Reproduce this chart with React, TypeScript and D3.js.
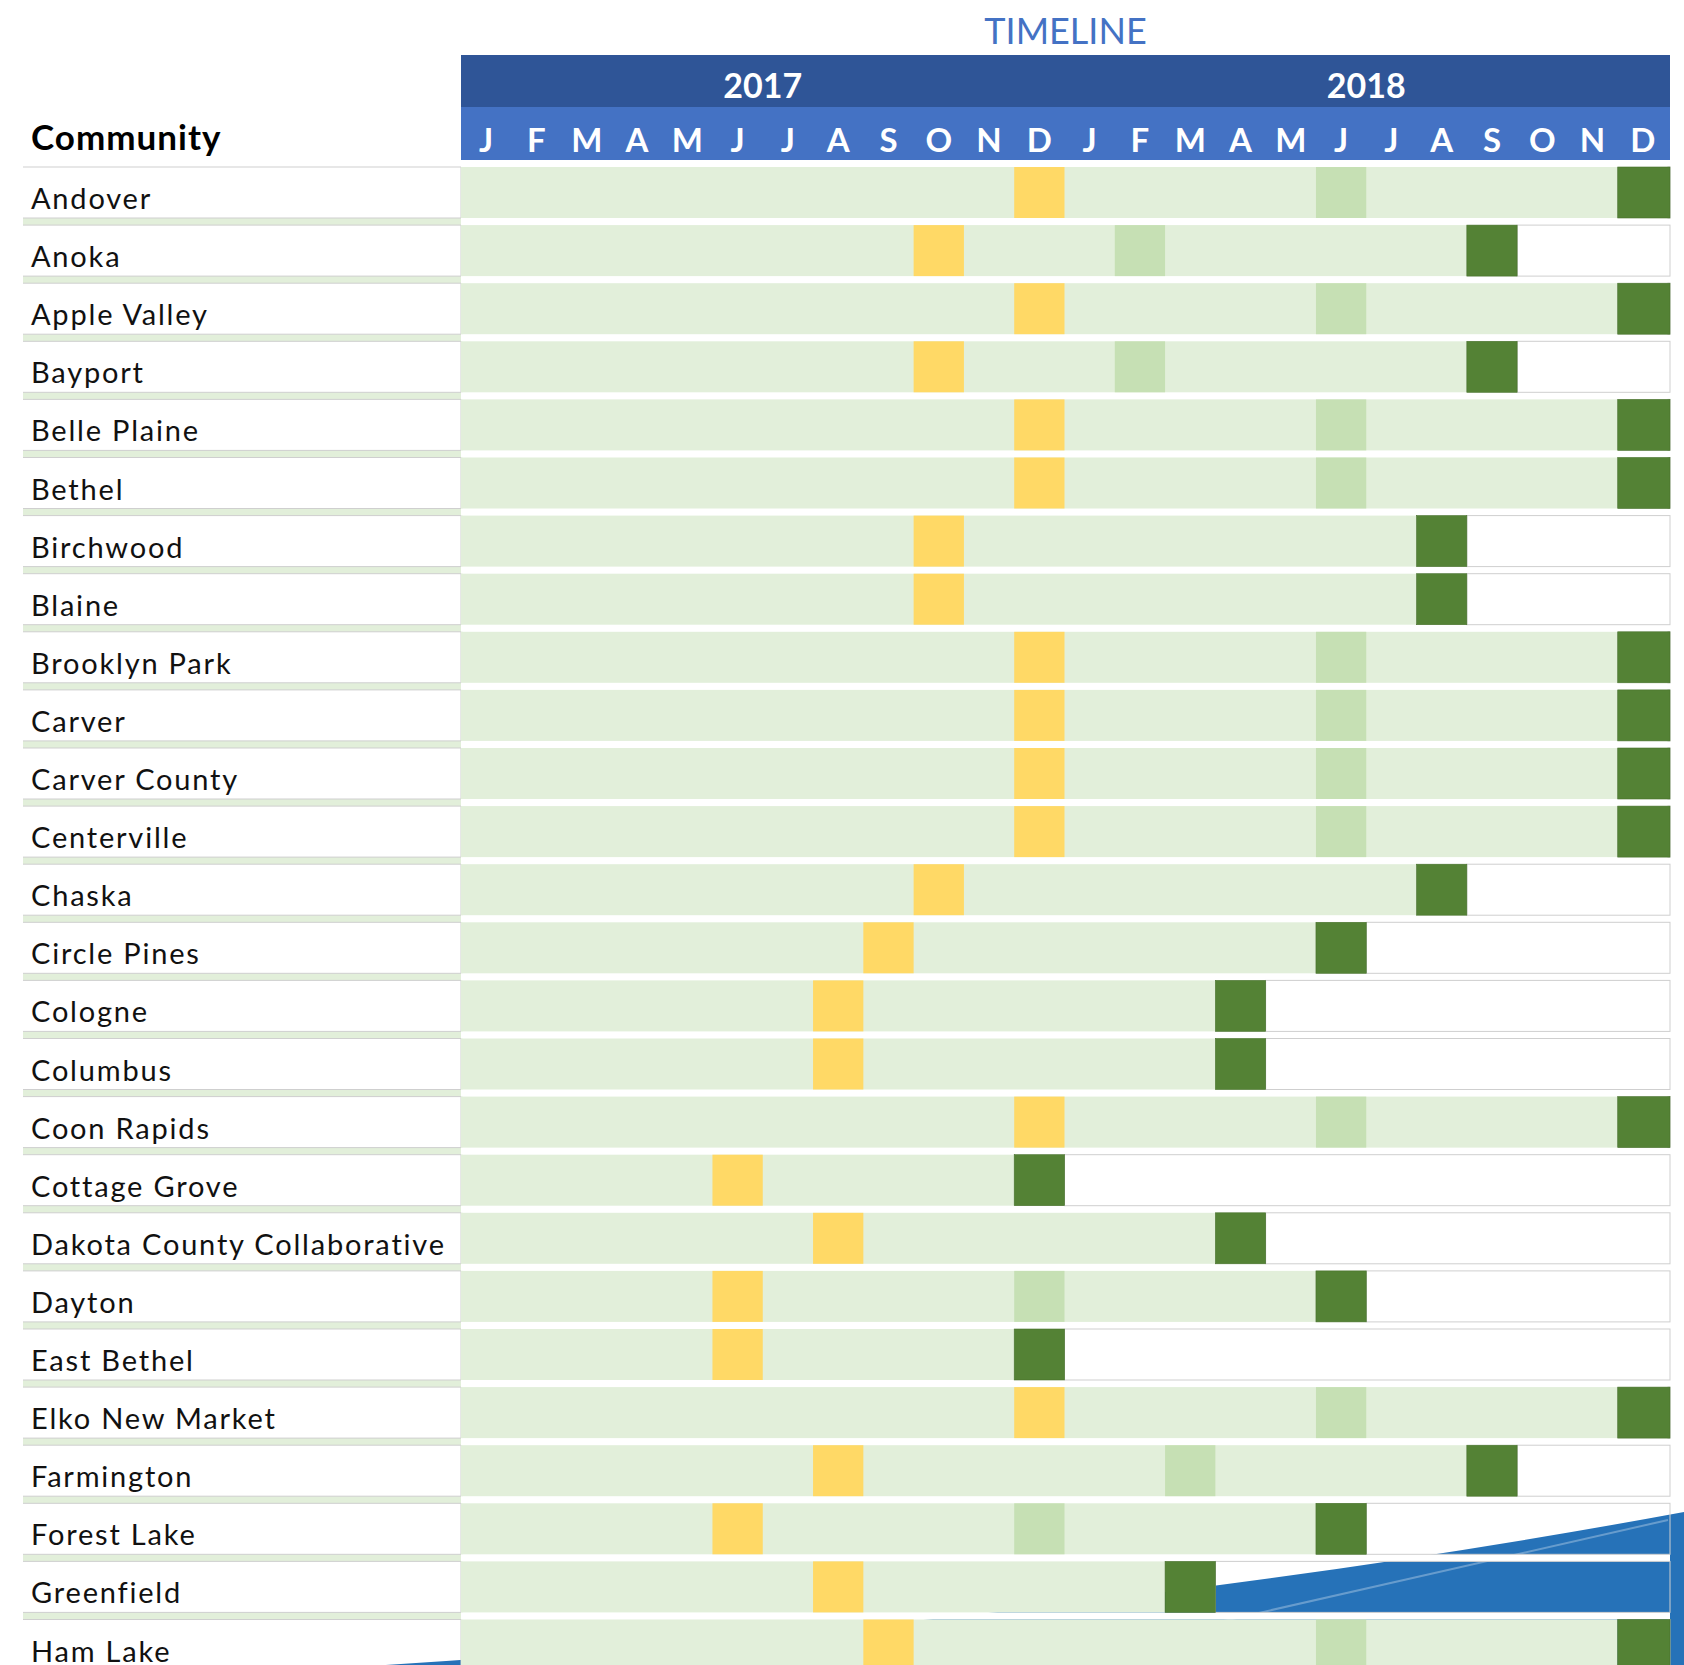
import React from "react";
import * as d3 from "d3";

const communities = [
  "Andover", "Anoka", "Apple Valley", "Bayport", "Belle Plaine", "Bethel", "Birchwood", "Blaine",
  "Brooklyn Park", "Carver", "Carver County", "Centerville", "Chaska", "Circle Pines", "Cologne",
  "Columbus", "Coon Rapids", "Cottage Grove", "Dakota County Collaborative", "Dayton", "East Bethel",
  "Elko New Market", "Farmington", "Forest Lake", "Greenfield", "Ham Lake",
];
// month index (0 = Jan 2017 ... 23 = Dec 2018)
const yellowMonth = [11, 9, 11, 9, 11, 11, 9, 9, 11, 11, 11, 11, 9, 8, 7, 7, 11, 5, 7, 5, 5, 11, 7, 5, 7, 8];
const midMonth: (number | null)[] = [17, 13, 17, 13, 17, 17, null, null, 17, 17, 17, 17, null, null, null, null, 17, null, null, 11, null, 17, 14, 11, null, 17];
const finalMonth = [23, 20, 23, 20, 23, 23, 19, 19, 23, 23, 23, 23, 19, 17, 15, 15, 23, 11, 15, 17, 11, 23, 20, 17, 14, 23];

const monthLetters = ["J", "F", "M", "A", "M", "J", "J", "A", "S", "O", "N", "D", "J", "F", "M", "A", "M", "J", "J", "A", "S", "O", "N", "D"];
const years = ["2017", "2018"];

const W = 1684;
const H = 1665;
const X0 = 461;
const X1 = 1668;
const TABLE_R = 1670;
const ROW_TOP = 167;
const PITCH = 58.1;
const BAR_H = 51;
const LABEL_X = 23;

const C = {
  dark: "#2f5597",
  light: "#4472c4",
  bg: "#e2efda",
  yellow: "#ffd966",
  mid: "#c6e0b4",
  final: "#548235",
  blue: "#2672b8",
  border: "#cfcfcf",
};

export default function App() {
  const x = d3.scaleBand<number>().domain(d3.range(24)).range([X0, X1]).paddingInner(0).paddingOuter(0);
  const xYear = d3.scaleBand<string>().domain(years).range([X0, X1]);
  const y = d3.scaleBand<string>().domain(communities).range([ROW_TOP, ROW_TOP + PITCH * communities.length]).paddingInner(0);
  const bw = x.bandwidth();
  const font = "Lato, 'Open Sans', sans-serif";

  return (
    <div style={{ position: "absolute", left: 0, top: 0 }}>
      <svg width={W} height={H} style={{ display: "block", background: "#fff" }}>
        {/* decorative background swoosh */}
        <path d={`M370,${H + 1} Q1100,1620 ${W},1512 L${W},${H} Z`} fill={C.blue} />
        <line x1={1100} y1={1649} x2={1668} y2={1520} stroke="#ffffff" strokeOpacity={0.3} strokeWidth={2} />

        {/* title */}
        <text x={(X0 + TABLE_R) / 2} y={44} textAnchor="middle" fill={C.light} fontFamily={font} fontSize={36}>TIMELINE</text>

        {/* header bands */}
        <rect x={X0} y={55} width={TABLE_R - X0} height={52} fill={C.dark} />
        <rect x={X0} y={107} width={TABLE_R - X0} height={53} fill={C.light} />
        {years.map((yr) => (
          <text key={yr} x={(xYear(yr) as number) + xYear.bandwidth() / 2} y={98} textAnchor="middle" fill="#fff" fontFamily={font} fontWeight={700} fontSize={34}>{yr}</text>
        ))}
        {monthLetters.map((m, i) => (
          <text key={i} x={(x(i) as number) + bw / 2} y={151.5} textAnchor="middle" fill="#fff" fontFamily={font} fontWeight={700} fontSize={33}>{m}</text>
        ))}
        <text x={31} y={150} fill="#000" fontFamily={font} fontWeight={700} fontSize={35} letterSpacing={1}>Community</text>

        {communities.map((name, i) => {
          const top = y(name) as number;
          const bottom = top + BAR_H;
          const nextTop = top + PITCH;
          const fEnd = (x(finalMonth[i]) as number) + bw;
          const mid = midMonth[i];
          return (
            <g key={name}>
              {/* label column */}
              {i < communities.length - 1 && (
                <rect x={LABEL_X} y={bottom} width={X0 + 2 - LABEL_X} height={nextTop - bottom} fill={C.bg} />
              )}
              <path d={`M${LABEL_X},${top}H${X0}V${bottom}H${LABEL_X}`} fill="none" stroke={C.border} strokeWidth={1} />
              <text x={31} y={top + 42} fill="#111" fontFamily={font} fontSize={29} letterSpacing={1.8}>{name}</text>

              {/* timeline separators */}
              {i < communities.length - 1 && (
                <rect x={X0} y={bottom} width={TABLE_R - X0} height={nextTop - bottom} fill="#fff" />
              )}
              {fEnd < TABLE_R - 1 && (
                <rect x={fEnd} y={top} width={TABLE_R - fEnd} height={BAR_H} fill="none" stroke={C.border} strokeWidth={1} />
              )}
              <rect x={X0} y={top} width={(x(finalMonth[i]) as number) - X0} height={BAR_H} fill={C.bg} />
              <rect x={x(yellowMonth[i])} y={top} width={bw} height={BAR_H} fill={C.yellow} />
              {mid !== null && <rect x={x(mid)} y={top} width={bw} height={BAR_H} fill={C.mid} />}
              <rect x={x(finalMonth[i])} y={top} width={finalMonth[i] === 23 ? TABLE_R - (x(23) as number) : bw} height={BAR_H} fill={C.final} stroke="#46702b" strokeWidth={0.6} />
            </g>
          );
        })}
      </svg>
    </div>
  );
}
